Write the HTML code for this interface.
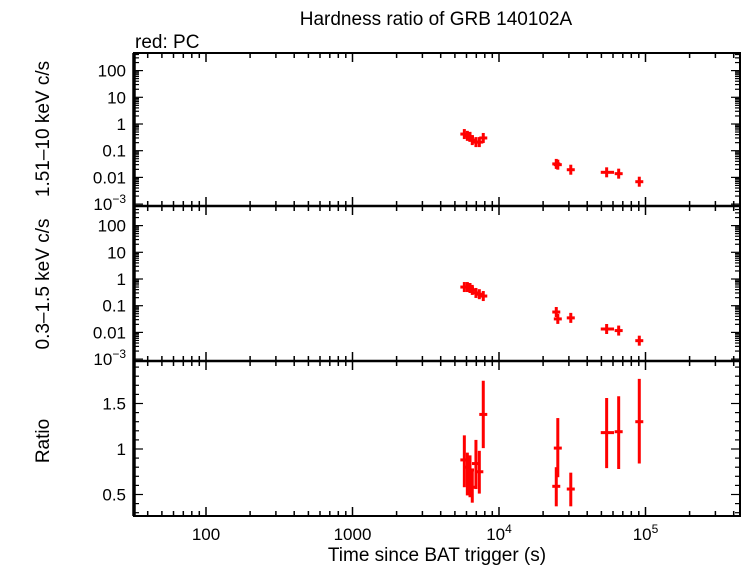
<!DOCTYPE html>
<html><head><meta charset="utf-8"><style>
body{margin:0;background:#fff}
svg{display:block;font-family:"Liberation Sans",sans-serif}
</style></head><body>
<svg id="c" width="742" height="566"></svg>
<script>
const times=[5800,6080,6340,6570,6960,7340,7810,24600,25200,30900,54300,65600,90700];
const timeLo=[5700,5980,6240,6470,6860,7230,7700,24300,24900,30400,49500,63500,86000];
const timeHi=[5900,6180,6440,6670,7060,7450,7920,24900,25500,31400,61000,67700,95500];
const hardVals=[0.42,0.36,0.33,0.25,0.21,0.21,0.30,0.032,0.030,0.0194,0.0155,0.0138,0.0069];
const softVals=[0.50,0.50,0.46,0.39,0.30,0.27,0.23,0.058,0.032,0.035,0.0134,0.0117,0.0049];
const ratioVals=[0.88,0.80,0.77,0.58,0.84,0.75,1.38,0.59,1.01,0.56,1.18,1.19,1.30];
const ratioLo=[0.58,0.49,0.47,0.41,0.56,0.51,1.01,0.37,0.69,0.37,0.79,0.78,0.84];
const ratioHi=[1.15,0.96,0.93,0.76,1.10,0.98,1.75,0.80,1.34,0.74,1.56,1.58,1.77];
const xTickLabels=["100","1000","10⁴","10⁵"];
const ratioTicks=[0.5,1,1.5];

const svg=document.getElementById('c');
const NS='http://www.w3.org/2000/svg';
function el(t,a,p){const e=document.createElementNS(NS,t);for(const k in a)e.setAttribute(k,a[k]);(p||svg).appendChild(e);return e;}
const L=134,R=740;
const xs=t=>206+(Math.log10(t)-2)*146.5;
const panels=[{top:53,bot:206,y:v=>124-Math.log10(v)*26.7,name:'hard-panel'},
{top:206,bot:361,y:v=>279-Math.log10(v)*26.7,name:'soft-panel'},
{top:361,bot:516,y:v=>449-(v-1)*91,name:'ratio-panel'}];
// frame
const fr=el('g',{stroke:'#000',fill:'none'});


el('rect',{x:L,y:53,width:R-L,height:516-53,'stroke-width':2},fr);
el('line',{x1:L,x2:L,y1:53,y2:516,'stroke-width':3.5},fr);
[206,361].forEach(y=>el('line',{x1:L,x2:R,y1:y,y2:y,'stroke-width':2.5},fr));
// x ticks
const xl=[53,206,361,516];
xl.forEach((yy,k)=>{
 for(let d=1;d<=5;d++)for(let m=1;m<10;m++){
  const t=m*Math.pow(10,d);const x=xs(t);if(x<L||x>R)continue;
  const len=m==1?9:5;
  const up=k>0?yy-len:yy, dn=k<3?yy+len:yy;
  el('line',{x1:x,x2:x,y1:up,y2:dn,'stroke-width':1.5},fr);
 }
});
panels.forEach((p,pi)=>{
 const g=el('g',{});
 
 
 if(pi<2){
  for(let d=-4;d<=3;d++)for(let m=1;m<10;m++){
   const v=m*Math.pow(10,d);const y=p.y(v);if(y<p.top+1||y>p.bot-1)continue;
   const len=m==1?9:5;
   el('line',{x1:L,x2:L+len,y1:y,y2:y,stroke:'#000','stroke-width':1.2},g);
   el('line',{x1:R,x2:R-len,y1:y,y2:y,stroke:'#000','stroke-width':1.2},g);
  }
  const labs=[[100,'100'],[10,'10'],[1,'1'],[0.1,'0.1'],[0.01,'0.01']];
  labs.forEach(([v,s])=>{const t=el('text',{x:L-8,y:p.y(v)+6,'text-anchor':'end','font-size':17},g);t.textContent=s;});
  const t=el('text',{x:L-8,y:p.y(0.001)+6,'text-anchor':'end','font-size':17},g);
  t.innerHTML='10<tspan dy="-7" font-size="12">−3</tspan>';
 } else {
  for(let v=0.3;v<=1.95;v+=0.1){const y=p.y(v);const major=Math.abs(v*2-Math.round(v*2))<0.01;const len=major?9:5;
   el('line',{x1:L,x2:L+len,y1:y,y2:y,stroke:'#000','stroke-width':1.2},g);
   el('line',{x1:R,x2:R-len,y1:y,y2:y,stroke:'#000','stroke-width':1.2},g);}
  ratioTicks.forEach(v=>{const t=el('text',{x:L-8,y:p.y(v)+6,'text-anchor':'end','font-size':17},g);t.textContent=String(v);});
 }
});
xTickLabels.forEach((s,i)=>{const t=el('text',{x:xs(Math.pow(10,i+2)),y:540,'text-anchor':'middle','font-size':17});
 
 if(i>=2){t.innerHTML='10<tspan dy="-7" font-size="12">'+(i+2)+'</tspan>';}else t.textContent=s;});
function drawSeries(p,vals,lo,hi,name){
 const g=el('g',{fill:'none',stroke:'#f00','stroke-width':3});
 
 
 vals.forEach((v,i)=>{
  const x=xs(times[i]),y=p.y(v);
  const x1=Math.min(xs(timeLo[i]),x-4),x2=Math.max(xs(timeHi[i]),x+4);
  el('line',{x1:x1,x2:x2,y1:y,y2:y},g);
  const y1=lo?p.y(lo[i]):y+5,y2=hi?p.y(hi[i]):y-5;
  el('line',{x1:x,x2:x,y1:y1,y2:y2},g);
 });
}
drawSeries(panels[0],hardVals,null,null,'hard-series');
drawSeries(panels[1],softVals,null,null,'soft-series');
drawSeries(panels[2],ratioVals,ratioLo,ratioHi,'ratio-series');
function txt(s,a,name){const t=el('text',a);t.textContent=s;return t;}
txt('Hardness ratio of GRB 140102A',{x:436,y:25,'text-anchor':'middle','font-size':19},'chart-title');
txt('red: PC',{x:135,y:48,'font-size':19},'legend-label');
txt('Time since BAT trigger (s)',{x:437,y:561,'text-anchor':'middle','font-size':19},'x-axis-title');
txt('1.51–10 keV c/s',{x:0,y:0,'text-anchor':'middle','font-size':19,transform:'translate(49,129) rotate(-90)'},'hard-y-title');
txt('0.3–1.5 keV c/s',{x:0,y:0,'text-anchor':'middle','font-size':19,transform:'translate(49,284) rotate(-90)'},'soft-y-title');
txt('Ratio',{x:0,y:0,'text-anchor':'middle','font-size':19,transform:'translate(49,441) rotate(-90)'},'ratio-y-title');
</script>
</body></html>
